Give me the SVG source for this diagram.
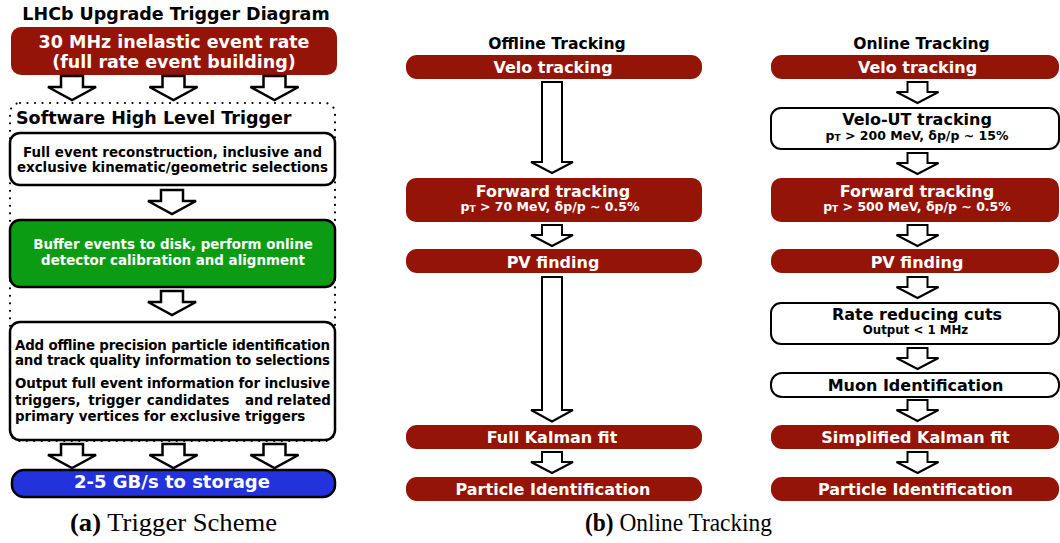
<svg xmlns="http://www.w3.org/2000/svg" width="1060" height="543" viewBox="0 0 1060 543">
<style>
text{font-family:"DejaVu Sans","Verdana",sans-serif;font-weight:bold}
.t{font-size:17.5px}
.m{font-size:13.4px}
.b{font-size:16px;fill:#fff;text-anchor:middle}
.bk{font-size:16px;fill:#000;text-anchor:middle}
.s{font-size:12.5px;text-anchor:middle}
.red{fill:#941408}
.wb{fill:#fff;stroke:#000;stroke-width:2.5}
.arr{fill:#fff;stroke:#000;stroke-width:2.5;stroke-linejoin:miter}
.arr2{fill:#fff;stroke:#000;stroke-width:2;stroke-linejoin:miter}
.cap{font-family:"Liberation Serif","Times New Roman",serif;font-weight:normal;font-size:24.5px;fill:#000}
</style>
<defs>
<path id="bigA" d="M-11,0 H11 V11 H24 L0,24 L-24,11 H-11 Z"/>
<path id="smA" d="M-10,0 H10 V10 H21 L0,21 L-21,10 H-10 Z"/>
</defs>

<!-- Left panel -->
<g id="title">
<text class="t" x="176" y="20" text-anchor="middle">LHCb Upgrade Trigger Diagram</text>
</g>
<g id="input">
<rect class="red" x="11" y="27" width="326" height="48" rx="10"/>
<text class="t" x="174" y="48" text-anchor="middle" fill="#fff">30 MHz inelastic event rate</text>
<text class="t" x="174" y="68" text-anchor="middle" fill="#fff">(full rate event building)</text>
</g>
<g id="hlt">
<rect x="10" y="103" width="325" height="338" rx="10" fill="none" stroke="#000" stroke-width="2.2" stroke-dasharray="0 7.5" stroke-linecap="round"/>
<text class="t" x="16" y="124">Software High Level Trigger</text>
</g>
<g id="reco">
<rect class="wb" x="10" y="133" width="325" height="52" rx="10"/>
<text class="m" x="172.5" y="156.7" text-anchor="middle">Full event reconstruction, inclusive and</text>
<text class="m" x="172.5" y="171.7" text-anchor="middle">exclusive kinematic/geometric selections</text>
</g>
<g id="buffer">
<rect x="10" y="220" width="325" height="67" rx="10" fill="#0c9c14" stroke="#000" stroke-width="2.5"/>
<text class="m" x="173" y="249.3" text-anchor="middle" fill="#fff">Buffer events to disk, perform online</text>
<text class="m" x="173" y="265" text-anchor="middle" fill="#fff">detector calibration and alignment</text>
</g>
<g id="offlinepid">
<rect class="wb" x="10" y="322" width="325" height="118" rx="10"/>
<text class="m" x="15" y="350" textLength="315" lengthAdjust="spacing">Add offline precision particle identification</text>
<text class="m" x="15" y="365" textLength="315" lengthAdjust="spacing">and track quality information to selections</text>
<text class="m" x="15" y="388.3" textLength="315" lengthAdjust="spacing">Output full event information for inclusive</text>
<text class="m" y="405"><tspan x="15">triggers,</tspan><tspan x="88.3">trigger</tspan><tspan x="146.7">candidates</tspan><tspan x="245">and</tspan><tspan x="276.5">related</tspan></text>
<text class="m" x="15" y="420.7">primary vertices for exclusive triggers</text>
</g>
<g id="storage">
<rect x="12" y="470" width="323" height="27" rx="12" fill="#2233dd" stroke="#000" stroke-width="2.5"/>
<text x="172" y="487.5" text-anchor="middle" fill="#fff" style="font-size:18px">2-5 GB/s to storage</text>
</g>
<text class="cap" x="70" y="531" textLength="207" lengthAdjust="spacingAndGlyphs"><tspan font-weight="bold">(a)</tspan> Trigger Scheme</text>

<!-- Right panel headers -->
<text x="557" y="49.3" text-anchor="middle" style="font-size:15.6px">Offline Tracking</text>
<text x="921.5" y="49.3" text-anchor="middle" style="font-size:15.6px">Online Tracking</text>

<!-- Offline column -->
<g id="off-velo">
<rect class="red" x="406" y="55" width="296" height="24" rx="11"/>
<text class="b" x="553" y="72.8">Velo tracking</text>
</g>
<g id="off-forward">
<rect class="red" x="406" y="178" width="296" height="44" rx="10"/>
<text class="b" x="553" y="196.7">Forward tracking</text>
<text class="s" x="550" y="210.7" fill="#fff">p<tspan font-size="9" dy="1">T</tspan><tspan dy="-1"> &gt; 70 MeV, δp/p ~ 0.5%</tspan></text>
</g>
<g id="off-pv">
<rect class="red" x="406" y="249" width="296" height="24" rx="11"/>
<text class="b" x="553" y="268">PV finding</text>
</g>
<g id="off-kalman">
<rect class="red" x="406" y="425" width="296" height="24" rx="11"/>
<text class="b" x="552" y="442.8">Full Kalman fit</text>
</g>
<g id="off-pid">
<rect class="red" x="406" y="477" width="296" height="24" rx="11"/>
<text class="b" x="553" y="494.8">Particle Identification</text>
</g>

<!-- Online column -->
<g id="on-velo">
<rect class="red" x="771" y="55" width="288" height="24" rx="11"/>
<text class="b" x="917.5" y="72.8">Velo tracking</text>
</g>
<g id="on-velout">
<rect x="771" y="108" width="288" height="41" rx="10" fill="#fff" stroke="#000" stroke-width="2"/>
<text class="bk" x="917" y="125">Velo-UT tracking</text>
<text class="s" x="917" y="140">p<tspan font-size="9" dy="1">T</tspan><tspan dy="-1"> &gt; 200 MeV, δp/p ~ 15%</tspan></text>
</g>
<g id="on-forward">
<rect class="red" x="771" y="178" width="288" height="44" rx="10"/>
<text class="b" x="917" y="196.7">Forward tracking</text>
<text class="s" x="917" y="210.7" fill="#fff">p<tspan font-size="9" dy="1">T</tspan><tspan dy="-1"> &gt; 500 MeV, δp/p ~ 0.5%</tspan></text>
</g>
<g id="on-pv">
<rect class="red" x="771" y="249" width="288" height="24" rx="11"/>
<text class="b" x="917" y="268">PV finding</text>
</g>
<g id="on-rate">
<rect x="771" y="303" width="288" height="41" rx="10" fill="#fff" stroke="#000" stroke-width="2"/>
<text class="bk" x="917" y="320">Rate reducing cuts</text>
<text x="915.5" y="334.3" text-anchor="middle" style="font-size:11.8px">Output &lt; 1 MHz</text>
</g>
<g id="on-muon">
<rect x="771" y="373" width="288" height="24" rx="11" fill="#fff" stroke="#000" stroke-width="2"/>
<text class="bk" x="915.5" y="390.7">Muon Identification</text>
</g>
<g id="on-kalman">
<rect class="red" x="771" y="425" width="288" height="24" rx="11"/>
<text class="b" x="915.5" y="442.8">Simplified Kalman fit</text>
</g>
<g id="on-pid">
<rect class="red" x="771" y="477" width="288" height="24" rx="11"/>
<text class="b" x="915.5" y="494.8">Particle Identification</text>
</g>
<text class="cap" x="585" y="531" textLength="187" lengthAdjust="spacingAndGlyphs"><tspan font-weight="bold">(b)</tspan> Online Tracking</text>

<!-- Connectors -->
<g id="connectors">
<use href="#bigA" class="arr" x="72" y="76"/>
<use href="#bigA" class="arr" x="173.5" y="76"/>
<use href="#bigA" class="arr" x="274.5" y="76"/>
<use href="#bigA" class="arr" x="172" y="190"/>
<use href="#bigA" class="arr" x="172" y="291"/>
<use href="#bigA" class="arr" x="72" y="444"/>
<use href="#bigA" class="arr" x="173.5" y="444"/>
<use href="#bigA" class="arr" x="274.5" y="444"/>

<path class="arr2" d="M542,82 H562 V162 H573 L552,173 L531,162 H542 Z"/>
<use href="#smA" class="arr2" x="552" y="225"/>
<path class="arr2" d="M542,277 H562 V410 H573 L552,421.5 L531,410 H542 Z"/>
<use href="#smA" class="arr2" x="552" y="452"/>

<use href="#smA" class="arr2" x="917.5" y="82"/>
<use href="#smA" class="arr2" x="917.5" y="153"/>
<use href="#smA" class="arr2" x="917.5" y="225"/>
<use href="#smA" class="arr2" x="917.5" y="277"/>
<use href="#smA" class="arr2" x="917.5" y="348"/>
<use href="#smA" class="arr2" x="917.5" y="400"/>
<use href="#smA" class="arr2" x="917.5" y="452"/>
</g>
</svg>
